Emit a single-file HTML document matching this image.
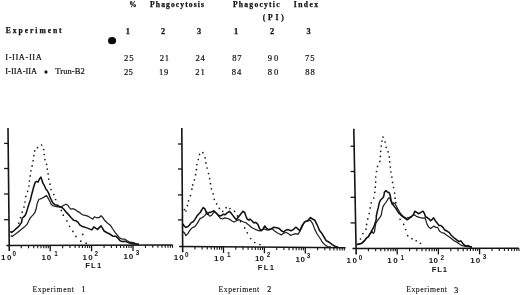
<!DOCTYPE html><html><head><meta charset="utf-8"><style>html,body{margin:0;padding:0;background:#fff;width:520px;height:295px;overflow:hidden}svg{display:block;will-change:transform}text{font-kerning:none;white-space:pre}</style></head><body>
<svg width="520" height="295" viewBox="0 0 520 295">
<rect width="520" height="295" fill="#fff"/>
<text x="129.25" y="6.58" font-family="Liberation Serif, serif" font-weight="700" font-size="7.30" letter-spacing="0.00" fill="#111" stroke="#111" stroke-width="0.25">%</text>
<text x="150.12" y="6.65" font-family="Liberation Serif, serif" font-weight="700" font-size="7.60" letter-spacing="1.09" fill="#111" stroke="#111" stroke-width="0.25">Phagocytosis</text>
<text x="232.97" y="7.00" font-family="Liberation Serif, serif" font-weight="700" font-size="7.60" letter-spacing="1.24" fill="#111" stroke="#111" stroke-width="0.25">Phagocytic</text>
<text x="293.74" y="7.10" font-family="Liberation Serif, serif" font-weight="700" font-size="7.60" letter-spacing="1.45" fill="#111" stroke="#111" stroke-width="0.25">Index</text>
<text x="262.77" y="19.95" font-family="Liberation Serif, serif" font-weight="700" font-size="7.60" letter-spacing="2.80" fill="#111" stroke="#111" stroke-width="0.25">(PI)</text>
<text x="5.87" y="32.78" font-family="Liberation Serif, serif" font-weight="700" font-size="7.60" letter-spacing="1.93" fill="#111" stroke="#111" stroke-width="0.25">Experiment</text>
<text x="125.84" y="33.66" font-family="Liberation Serif, serif" font-weight="700" font-size="8.30" letter-spacing="0.00" fill="#111" stroke="#111" stroke-width="0.25">1</text>
<text x="160.90" y="33.67" font-family="Liberation Serif, serif" font-weight="700" font-size="8.30" letter-spacing="0.00" fill="#111" stroke="#111" stroke-width="0.25">2</text>
<text x="196.94" y="33.96" font-family="Liberation Serif, serif" font-weight="700" font-size="8.30" letter-spacing="0.00" fill="#111" stroke="#111" stroke-width="0.25">3</text>
<text x="234.09" y="34.11" font-family="Liberation Serif, serif" font-weight="700" font-size="8.30" letter-spacing="0.00" fill="#111" stroke="#111" stroke-width="0.25">1</text>
<text x="269.90" y="33.87" font-family="Liberation Serif, serif" font-weight="700" font-size="8.30" letter-spacing="0.00" fill="#111" stroke="#111" stroke-width="0.25">2</text>
<text x="306.59" y="34.16" font-family="Liberation Serif, serif" font-weight="700" font-size="8.30" letter-spacing="0.00" fill="#111" stroke="#111" stroke-width="0.25">3</text>
<text x="5.30" y="60.17" font-family="Liberation Serif, serif" font-weight="400" font-size="8.40" letter-spacing="0.60" fill="#111" stroke="#111" stroke-width="0.2">I-IIA-IIA</text>
<text x="123.92" y="60.86" font-family="Liberation Serif, serif" font-weight="400" font-size="8.60" letter-spacing="1.01" fill="#111" stroke="#111" stroke-width="0.2">25</text>
<text x="159.87" y="61.15" font-family="Liberation Serif, serif" font-weight="400" font-size="8.60" letter-spacing="0.54" fill="#111" stroke="#111" stroke-width="0.2">21</text>
<text x="195.62" y="61.15" font-family="Liberation Serif, serif" font-weight="400" font-size="8.60" letter-spacing="0.66" fill="#111" stroke="#111" stroke-width="0.2">24</text>
<text x="232.17" y="61.12" font-family="Liberation Serif, serif" font-weight="400" font-size="8.60" letter-spacing="0.73" fill="#111" stroke="#111" stroke-width="0.2">87</text>
<text x="267.82" y="61.17" font-family="Liberation Serif, serif" font-weight="400" font-size="8.60" letter-spacing="1.80" fill="#111" stroke="#111" stroke-width="0.2">90</text>
<text x="305.03" y="61.07" font-family="Liberation Serif, serif" font-weight="400" font-size="8.60" letter-spacing="0.90" fill="#111" stroke="#111" stroke-width="0.2">75</text>
<text x="5.30" y="73.62" font-family="Liberation Serif, serif" font-weight="400" font-size="8.40" letter-spacing="0.03" fill="#111" stroke="#111" stroke-width="0.2">I-IIA-IIA</text>
<text x="55.15" y="74.05" font-family="Liberation Serif, serif" font-weight="400" font-size="8.50" letter-spacing="0.04" fill="#111" stroke="#111" stroke-width="0.2">Trun-B2</text>
<text x="123.92" y="74.56" font-family="Liberation Serif, serif" font-weight="400" font-size="8.60" letter-spacing="0.31" fill="#111" stroke="#111" stroke-width="0.2">25</text>
<text x="159.04" y="74.56" font-family="Liberation Serif, serif" font-weight="400" font-size="8.60" letter-spacing="0.71" fill="#111" stroke="#111" stroke-width="0.2">19</text>
<text x="195.32" y="74.60" font-family="Liberation Serif, serif" font-weight="400" font-size="8.60" letter-spacing="0.89" fill="#111" stroke="#111" stroke-width="0.2">21</text>
<text x="231.67" y="74.57" font-family="Liberation Serif, serif" font-weight="400" font-size="8.60" letter-spacing="1.06" fill="#111" stroke="#111" stroke-width="0.2">84</text>
<text x="267.77" y="74.92" font-family="Liberation Serif, serif" font-weight="400" font-size="8.60" letter-spacing="1.86" fill="#111" stroke="#111" stroke-width="0.2">80</text>
<text x="305.27" y="74.92" font-family="Liberation Serif, serif" font-weight="400" font-size="8.60" letter-spacing="0.86" fill="#111" stroke="#111" stroke-width="0.2">88</text>
<text x="32.38" y="291.63" font-family="Liberation Serif, serif" font-weight="400" font-size="7.70" letter-spacing="0.62" fill="#111" stroke="#111" stroke-width="0.1">Experiment</text>
<text x="81.61" y="291.81" font-family="Liberation Serif, serif" font-weight="400" font-size="7.90" letter-spacing="0.00" fill="#111" stroke="#111" stroke-width="0.2">1</text>
<text x="218.58" y="292.03" font-family="Liberation Serif, serif" font-weight="400" font-size="7.70" letter-spacing="0.53" fill="#111" stroke="#111" stroke-width="0.1">Experiment</text>
<text x="267.35" y="292.22" font-family="Liberation Serif, serif" font-weight="400" font-size="7.90" letter-spacing="0.00" fill="#111" stroke="#111" stroke-width="0.2">2</text>
<text x="406.28" y="292.38" font-family="Liberation Serif, serif" font-weight="400" font-size="7.70" letter-spacing="0.53" fill="#111" stroke="#111" stroke-width="0.1">Experiment</text>
<text x="454.22" y="292.58" font-family="Liberation Serif, serif" font-weight="400" font-size="7.90" letter-spacing="0.00" fill="#111" stroke="#111" stroke-width="0.2">3</text>
<ellipse cx="112.05" cy="40.65" rx="4.05" ry="3.55" fill="#0a0a0a"/>
<ellipse cx="46.0" cy="72.1" rx="1.6" ry="1.75" fill="#1a1a1a"/>
<line x1="8.0" y1="128.0" x2="9.3" y2="251.0" stroke="#141414" stroke-width="1.6"/>
<line x1="6.4" y1="245.5" x2="172.7" y2="245.0" stroke="#141414" stroke-width="1.5"/>
<line x1="4.1" y1="143.4" x2="8.16" y2="143.4" stroke="#141414" stroke-width="1.3"/>
<line x1="4.1" y1="168.5" x2="8.43" y2="168.5" stroke="#141414" stroke-width="1.3"/>
<line x1="4.1" y1="194.0" x2="8.70" y2="194.0" stroke="#141414" stroke-width="1.3"/>
<line x1="4.1" y1="219.7" x2="8.97" y2="219.7" stroke="#141414" stroke-width="1.3"/>
<line x1="21.26" y1="245.46" x2="21.26" y2="248.26" stroke="#141414" stroke-width="1.1"/>
<line x1="28.55" y1="245.43" x2="28.55" y2="248.23" stroke="#141414" stroke-width="1.1"/>
<line x1="33.73" y1="245.42" x2="33.73" y2="248.22" stroke="#141414" stroke-width="1.1"/>
<line x1="37.74" y1="245.41" x2="37.74" y2="248.21" stroke="#141414" stroke-width="1.1"/>
<line x1="41.02" y1="245.40" x2="41.02" y2="248.20" stroke="#141414" stroke-width="1.1"/>
<line x1="43.79" y1="245.39" x2="43.79" y2="248.19" stroke="#141414" stroke-width="1.1"/>
<line x1="46.19" y1="245.38" x2="46.19" y2="248.18" stroke="#141414" stroke-width="1.1"/>
<line x1="48.31" y1="245.37" x2="48.31" y2="248.17" stroke="#141414" stroke-width="1.1"/>
<line x1="50.20" y1="245.37" x2="50.20" y2="251.37" stroke="#141414" stroke-width="1.3"/>
<line x1="62.66" y1="245.33" x2="62.66" y2="248.13" stroke="#141414" stroke-width="1.1"/>
<line x1="69.95" y1="245.31" x2="69.95" y2="248.11" stroke="#141414" stroke-width="1.1"/>
<line x1="75.13" y1="245.29" x2="75.13" y2="248.09" stroke="#141414" stroke-width="1.1"/>
<line x1="79.14" y1="245.28" x2="79.14" y2="248.08" stroke="#141414" stroke-width="1.1"/>
<line x1="82.42" y1="245.27" x2="82.42" y2="248.07" stroke="#141414" stroke-width="1.1"/>
<line x1="85.19" y1="245.26" x2="85.19" y2="248.06" stroke="#141414" stroke-width="1.1"/>
<line x1="87.59" y1="245.26" x2="87.59" y2="248.06" stroke="#141414" stroke-width="1.1"/>
<line x1="89.71" y1="245.25" x2="89.71" y2="248.05" stroke="#141414" stroke-width="1.1"/>
<line x1="91.60" y1="245.24" x2="91.60" y2="251.24" stroke="#141414" stroke-width="1.3"/>
<line x1="104.06" y1="245.21" x2="104.06" y2="248.01" stroke="#141414" stroke-width="1.1"/>
<line x1="111.35" y1="245.18" x2="111.35" y2="247.98" stroke="#141414" stroke-width="1.1"/>
<line x1="116.53" y1="245.17" x2="116.53" y2="247.97" stroke="#141414" stroke-width="1.1"/>
<line x1="120.54" y1="245.16" x2="120.54" y2="247.96" stroke="#141414" stroke-width="1.1"/>
<line x1="123.82" y1="245.15" x2="123.82" y2="247.95" stroke="#141414" stroke-width="1.1"/>
<line x1="126.59" y1="245.14" x2="126.59" y2="247.94" stroke="#141414" stroke-width="1.1"/>
<line x1="128.99" y1="245.13" x2="128.99" y2="247.93" stroke="#141414" stroke-width="1.1"/>
<line x1="131.11" y1="245.13" x2="131.11" y2="247.93" stroke="#141414" stroke-width="1.1"/>
<line x1="133.00" y1="245.12" x2="133.00" y2="251.12" stroke="#141414" stroke-width="1.3"/>
<line x1="145.46" y1="245.08" x2="145.46" y2="247.88" stroke="#141414" stroke-width="1.1"/>
<line x1="152.75" y1="245.06" x2="152.75" y2="247.86" stroke="#141414" stroke-width="1.1"/>
<line x1="157.93" y1="245.04" x2="157.93" y2="247.84" stroke="#141414" stroke-width="1.1"/>
<line x1="161.94" y1="245.03" x2="161.94" y2="247.83" stroke="#141414" stroke-width="1.1"/>
<line x1="165.22" y1="245.02" x2="165.22" y2="247.82" stroke="#141414" stroke-width="1.1"/>
<line x1="167.99" y1="245.01" x2="167.99" y2="247.81" stroke="#141414" stroke-width="1.1"/>
<line x1="170.39" y1="245.01" x2="170.39" y2="247.81" stroke="#141414" stroke-width="1.1"/>
<line x1="172.51" y1="245.00" x2="172.51" y2="247.80" stroke="#141414" stroke-width="1.1"/>
<polyline points="10.7,235.5 12.1,236.6 14.8,234.6 17.5,232.5 20.9,229.8 24.3,227.1 27.0,224.4 29.0,220.3 30.4,217.6 33.1,214.9 35.1,212.2 36.5,207.5 37.2,203.4 38.8,199.5 41.9,198.3 44.4,196.9 46.5,195.6 47.7,197.4 49.0,200.0 50.3,202.0 51.1,204.2 53.1,205.8 55.5,206.3 58.0,206.8 61.3,206.8 63.8,205.3 65.9,204.2 67.9,205.3 69.4,207.8 71.2,209.2 73.3,208.7 75.1,209.6 77.1,211.1 79.7,212.6 81.7,214.2 83.7,215.2 86.3,215.7 88.8,216.7 91.4,218.2 92.9,219.2 94.4,216.7 96.5,217.7 99.0,217.7 101.0,215.7 102.6,217.2 104.6,220.3 107.1,222.8 110.6,225.6 112.8,229.0 115.1,232.3 117.3,235.1 119.5,237.9 121.8,239.0 124.6,239.0 126.8,240.5 129.0,241.8 131.8,242.4 134.3,242.9 135.7,243.8 139.0,244.3" fill="none" stroke="#222" stroke-width="1.25" stroke-linejoin="round"/>
<polyline points="10.4,231.2 11.4,232.5 13.4,231.2 15.5,229.2 18.8,226.4 21.6,222.4 22.2,218.3 25.0,215.6 26.3,212.9 27.7,208.1 29.0,204.1 30.4,200.0 31.2,196.4 32.7,190.8 34.2,185.2 35.3,182.2 36.8,181.4 38.1,182.2 39.3,179.3 40.9,177.1 41.9,180.1 42.9,183.2 44.4,185.7 46.0,189.3 47.2,190.5 48.6,193.1 49.6,196.1 51.1,199.7 53.1,203.2 55.2,204.8 57.7,205.3 59.8,206.8 62.3,207.8 64.3,209.8 66.4,212.4 68.9,214.9 71.0,217.5 73.6,220.3 76.1,220.8 78.1,222.3 79.7,224.8 82.2,226.4 84.2,226.9 86.8,227.9 89.3,228.9 91.9,229.9 93.9,226.9 96.0,228.4 97.5,229.4 99.5,227.4 101.0,225.9 102.6,228.4 104.1,231.0 106.6,232.5 109.7,234.0 112.8,236.2 115.6,236.2 117.8,237.9 120.1,240.7 122.3,241.6 125.1,241.3 127.9,242.4 130.7,243.2 133.5,243.8 135.7,244.0 139.0,244.3" fill="none" stroke="#111" stroke-width="1.55" stroke-linejoin="round"/>
<circle cx="18.8" cy="223.1" r="0.85" fill="#1a1a1a"/>
<circle cx="20.5" cy="217.6" r="0.85" fill="#1a1a1a"/>
<circle cx="22.2" cy="212.2" r="0.85" fill="#1a1a1a"/>
<circle cx="24" cy="207.1" r="0.85" fill="#1a1a1a"/>
<circle cx="25" cy="202" r="0.85" fill="#1a1a1a"/>
<circle cx="25.9" cy="196.4" r="0.85" fill="#1a1a1a"/>
<circle cx="27.6" cy="191.3" r="0.85" fill="#1a1a1a"/>
<circle cx="29" cy="186" r="0.85" fill="#1a1a1a"/>
<circle cx="29.4" cy="181" r="0.85" fill="#1a1a1a"/>
<circle cx="30.2" cy="175.9" r="0.85" fill="#1a1a1a"/>
<circle cx="30.9" cy="170.8" r="0.85" fill="#1a1a1a"/>
<circle cx="32.1" cy="165.9" r="0.85" fill="#1a1a1a"/>
<circle cx="33.1" cy="160.8" r="0.85" fill="#1a1a1a"/>
<circle cx="33.9" cy="155.7" r="0.85" fill="#1a1a1a"/>
<circle cx="34.7" cy="150.9" r="0.85" fill="#1a1a1a"/>
<circle cx="37.5" cy="147.7" r="0.85" fill="#1a1a1a"/>
<circle cx="41.6" cy="145" r="0.85" fill="#1a1a1a"/>
<circle cx="43.7" cy="149.5" r="0.85" fill="#1a1a1a"/>
<circle cx="44.2" cy="154.5" r="0.85" fill="#1a1a1a"/>
<circle cx="44.9" cy="159.6" r="0.85" fill="#1a1a1a"/>
<circle cx="46.6" cy="164.3" r="0.85" fill="#1a1a1a"/>
<circle cx="47.3" cy="169.1" r="0.85" fill="#1a1a1a"/>
<circle cx="48.1" cy="173.8" r="0.85" fill="#1a1a1a"/>
<circle cx="48.7" cy="179.1" r="0.85" fill="#1a1a1a"/>
<circle cx="50" cy="184.2" r="0.85" fill="#1a1a1a"/>
<circle cx="51" cy="189.5" r="0.85" fill="#1a1a1a"/>
<circle cx="53.8" cy="194.5" r="0.85" fill="#1a1a1a"/>
<circle cx="55.6" cy="199.5" r="0.85" fill="#1a1a1a"/>
<circle cx="61.3" cy="210.4" r="0.85" fill="#1a1a1a"/>
<circle cx="63.3" cy="215.2" r="0.85" fill="#1a1a1a"/>
<circle cx="66.9" cy="220.8" r="0.85" fill="#1a1a1a"/>
<circle cx="69.6" cy="226.3" r="0.85" fill="#1a1a1a"/>
<circle cx="72.9" cy="231.4" r="0.85" fill="#1a1a1a"/>
<circle cx="76" cy="236.4" r="0.85" fill="#1a1a1a"/>
<circle cx="80.8" cy="241.2" r="0.85" fill="#1a1a1a"/>
<circle cx="82.8" cy="234.4" r="0.85" fill="#1a1a1a"/>
<circle cx="86.2" cy="243.2" r="0.85" fill="#1a1a1a"/>
<line x1="181.8" y1="128.0" x2="182.7" y2="252.3" stroke="#141414" stroke-width="1.6"/>
<line x1="179.1" y1="246.6" x2="345.6" y2="247.7" stroke="#141414" stroke-width="1.5"/>
<line x1="178.0" y1="144.0" x2="181.92" y2="144.0" stroke="#141414" stroke-width="1.3"/>
<line x1="178.0" y1="169.0" x2="182.10" y2="169.0" stroke="#141414" stroke-width="1.3"/>
<line x1="178.0" y1="194.9" x2="182.28" y2="194.9" stroke="#141414" stroke-width="1.3"/>
<line x1="178.0" y1="219.9" x2="182.47" y2="219.9" stroke="#141414" stroke-width="1.3"/>
<line x1="194.91" y1="246.70" x2="194.91" y2="249.50" stroke="#141414" stroke-width="1.1"/>
<line x1="202.11" y1="246.75" x2="202.11" y2="249.55" stroke="#141414" stroke-width="1.1"/>
<line x1="207.22" y1="246.79" x2="207.22" y2="249.59" stroke="#141414" stroke-width="1.1"/>
<line x1="211.19" y1="246.81" x2="211.19" y2="249.61" stroke="#141414" stroke-width="1.1"/>
<line x1="214.43" y1="246.83" x2="214.43" y2="249.63" stroke="#141414" stroke-width="1.1"/>
<line x1="217.16" y1="246.85" x2="217.16" y2="249.65" stroke="#141414" stroke-width="1.1"/>
<line x1="219.54" y1="246.87" x2="219.54" y2="249.67" stroke="#141414" stroke-width="1.1"/>
<line x1="221.63" y1="246.88" x2="221.63" y2="249.68" stroke="#141414" stroke-width="1.1"/>
<line x1="223.50" y1="246.89" x2="223.50" y2="252.89" stroke="#141414" stroke-width="1.3"/>
<line x1="235.81" y1="246.97" x2="235.81" y2="249.77" stroke="#141414" stroke-width="1.1"/>
<line x1="243.01" y1="247.02" x2="243.01" y2="249.82" stroke="#141414" stroke-width="1.1"/>
<line x1="248.12" y1="247.06" x2="248.12" y2="249.86" stroke="#141414" stroke-width="1.1"/>
<line x1="252.09" y1="247.08" x2="252.09" y2="249.88" stroke="#141414" stroke-width="1.1"/>
<line x1="255.33" y1="247.10" x2="255.33" y2="249.90" stroke="#141414" stroke-width="1.1"/>
<line x1="258.06" y1="247.12" x2="258.06" y2="249.92" stroke="#141414" stroke-width="1.1"/>
<line x1="260.44" y1="247.14" x2="260.44" y2="249.94" stroke="#141414" stroke-width="1.1"/>
<line x1="262.53" y1="247.15" x2="262.53" y2="249.95" stroke="#141414" stroke-width="1.1"/>
<line x1="264.40" y1="247.16" x2="264.40" y2="253.16" stroke="#141414" stroke-width="1.3"/>
<line x1="276.71" y1="247.24" x2="276.71" y2="250.04" stroke="#141414" stroke-width="1.1"/>
<line x1="283.91" y1="247.29" x2="283.91" y2="250.09" stroke="#141414" stroke-width="1.1"/>
<line x1="289.02" y1="247.33" x2="289.02" y2="250.13" stroke="#141414" stroke-width="1.1"/>
<line x1="292.99" y1="247.35" x2="292.99" y2="250.15" stroke="#141414" stroke-width="1.1"/>
<line x1="296.23" y1="247.37" x2="296.23" y2="250.17" stroke="#141414" stroke-width="1.1"/>
<line x1="298.96" y1="247.39" x2="298.96" y2="250.19" stroke="#141414" stroke-width="1.1"/>
<line x1="301.34" y1="247.41" x2="301.34" y2="250.21" stroke="#141414" stroke-width="1.1"/>
<line x1="303.43" y1="247.42" x2="303.43" y2="250.22" stroke="#141414" stroke-width="1.1"/>
<line x1="305.30" y1="247.43" x2="305.30" y2="253.43" stroke="#141414" stroke-width="1.3"/>
<line x1="317.61" y1="247.52" x2="317.61" y2="250.32" stroke="#141414" stroke-width="1.1"/>
<line x1="324.81" y1="247.56" x2="324.81" y2="250.36" stroke="#141414" stroke-width="1.1"/>
<line x1="329.92" y1="247.60" x2="329.92" y2="250.40" stroke="#141414" stroke-width="1.1"/>
<line x1="333.89" y1="247.62" x2="333.89" y2="250.42" stroke="#141414" stroke-width="1.1"/>
<line x1="337.13" y1="247.64" x2="337.13" y2="250.44" stroke="#141414" stroke-width="1.1"/>
<line x1="339.86" y1="247.66" x2="339.86" y2="250.46" stroke="#141414" stroke-width="1.1"/>
<line x1="342.24" y1="247.68" x2="342.24" y2="250.48" stroke="#141414" stroke-width="1.1"/>
<line x1="344.33" y1="247.69" x2="344.33" y2="250.49" stroke="#141414" stroke-width="1.1"/>
<polyline points="183.0,231.5 184.7,233.3 185.9,235.6 187.7,233.9 189.5,230.9 191.3,228.5 193.1,227.3 194.8,226.7 196.6,224.4 198.4,221.4 200.2,218.4 202.0,217.8 203.7,216.6 205.5,214.9 206.7,211.9 207.9,214.3 209.7,216.1 211.5,215.5 213.2,213.1 215.0,211.9 216.8,213.7 218.6,216.1 220.4,218.4 222.7,219.0 224.5,217.8 226.9,218.4 229.3,219.0 231.6,220.8 234.0,222.0 236.4,220.8 238.8,219.6 241.1,220.8 243.5,222.0 245.9,222.6 247.7,224.3 249.5,225.5 251.2,227.3 253.6,228.5 256.0,229.7 257.8,230.3 259.5,230.8 261.9,230.2 264.2,229.0 267.2,230.2 269.6,229.6 271.9,228.4 274.3,230.8 276.7,232.5 279.1,233.7 281.4,234.9 283.8,233.1 286.2,232.5 288.6,233.7 290.9,235.5 293.3,234.3 295.7,233.7 298.0,234.3 299.8,231.4 302.2,226.6 304.0,223.0 305.8,221.3 306.1,221.3 308.2,220.8 310.2,220.2 312.5,223.3 314.8,229.4 317.1,234.0 320.2,238.5 322.4,242.3 325.5,245.4 327.8,246.5 331.0,246.8" fill="none" stroke="#222" stroke-width="1.25" stroke-linejoin="round"/>
<polyline points="183.0,223.8 184.2,226.1 185.9,227.3 187.7,226.7 189.5,225.0 191.3,222.6 193.1,221.8 194.8,219.6 196.6,216.6 198.4,214.3 200.2,212.5 202.0,209.5 203.1,207.5 204.9,208.9 206.1,211.9 207.5,214.3 209.1,212.5 211.5,211.9 213.8,210.7 215.6,212.5 218.0,214.8 219.8,216.0 221.6,215.4 223.3,214.2 225.1,214.8 226.9,213.1 229.3,211.3 231.1,213.1 232.8,215.4 234.6,217.8 236.4,219.6 238.2,217.2 240.6,214.2 242.9,211.3 244.7,212.5 245.9,216.0 247.1,219.0 248.9,220.2 250.0,219.0 251.8,220.8 253.6,222.6 256.0,222.6 257.8,224.3 259.5,228.4 261.3,230.8 263.0,229.0 264.8,226.0 266.6,228.4 269.0,229.6 271.4,229.0 273.7,227.2 276.7,227.8 279.1,228.4 281.4,230.8 283.8,232.0 285.6,230.2 288.0,229.6 290.9,230.8 293.3,229.6 295.7,227.2 297.4,228.4 299.8,230.8 302.2,225.4 304.6,221.9 307.5,220.7 309.9,218.3 310.2,217.5 312.5,219.0 314.8,220.2 317.1,224.8 319.4,230.2 321.7,233.2 324.0,237.0 326.3,240.8 329.3,242.3 332.3,244.6 335.4,246.5 338.0,246.9" fill="none" stroke="#111" stroke-width="1.55" stroke-linejoin="round"/>
<circle cx="184.4" cy="209.6" r="0.85" fill="#1a1a1a"/>
<circle cx="186" cy="211" r="0.85" fill="#1a1a1a"/>
<circle cx="187.4" cy="205.6" r="0.85" fill="#1a1a1a"/>
<circle cx="188.5" cy="200.8" r="0.85" fill="#1a1a1a"/>
<circle cx="190.4" cy="195.6" r="0.85" fill="#1a1a1a"/>
<circle cx="191.9" cy="189.2" r="0.85" fill="#1a1a1a"/>
<circle cx="192.7" cy="184.9" r="0.85" fill="#1a1a1a"/>
<circle cx="194.4" cy="179.8" r="0.85" fill="#1a1a1a"/>
<circle cx="195.6" cy="174.7" r="0.85" fill="#1a1a1a"/>
<circle cx="196.4" cy="169.7" r="0.85" fill="#1a1a1a"/>
<circle cx="196.9" cy="164.6" r="0.85" fill="#1a1a1a"/>
<circle cx="198.3" cy="159.5" r="0.85" fill="#1a1a1a"/>
<circle cx="199.5" cy="154.4" r="0.85" fill="#1a1a1a"/>
<circle cx="202.9" cy="152.7" r="0.85" fill="#1a1a1a"/>
<circle cx="205.1" cy="157.8" r="0.85" fill="#1a1a1a"/>
<circle cx="205.9" cy="162.9" r="0.85" fill="#1a1a1a"/>
<circle cx="207.1" cy="168" r="0.85" fill="#1a1a1a"/>
<circle cx="208.5" cy="173.6" r="0.85" fill="#1a1a1a"/>
<circle cx="209.7" cy="178.6" r="0.85" fill="#1a1a1a"/>
<circle cx="210.5" cy="183.7" r="0.85" fill="#1a1a1a"/>
<circle cx="211.4" cy="188.8" r="0.85" fill="#1a1a1a"/>
<circle cx="213.2" cy="193.8" r="0.85" fill="#1a1a1a"/>
<circle cx="214.3" cy="199.3" r="0.85" fill="#1a1a1a"/>
<circle cx="216.6" cy="203.8" r="0.85" fill="#1a1a1a"/>
<circle cx="219.4" cy="208.4" r="0.85" fill="#1a1a1a"/>
<circle cx="222.7" cy="211.3" r="0.85" fill="#1a1a1a"/>
<circle cx="226.1" cy="207.7" r="0.85" fill="#1a1a1a"/>
<circle cx="229.9" cy="208.5" r="0.85" fill="#1a1a1a"/>
<circle cx="234.6" cy="211.3" r="0.85" fill="#1a1a1a"/>
<circle cx="237.6" cy="215.9" r="0.85" fill="#1a1a1a"/>
<circle cx="240.6" cy="221.6" r="0.85" fill="#1a1a1a"/>
<circle cx="244.7" cy="227.9" r="0.85" fill="#1a1a1a"/>
<circle cx="247.3" cy="232.8" r="0.85" fill="#1a1a1a"/>
<circle cx="250.7" cy="238.5" r="0.85" fill="#1a1a1a"/>
<circle cx="254.8" cy="242.5" r="0.85" fill="#1a1a1a"/>
<circle cx="259.9" cy="244.5" r="0.85" fill="#1a1a1a"/>
<line x1="353.8" y1="128.7" x2="356.2" y2="254.6" stroke="#141414" stroke-width="1.6"/>
<line x1="352.5" y1="248.6" x2="518.8" y2="248.2" stroke="#141414" stroke-width="1.5"/>
<line x1="350.6" y1="146.2" x2="354.13" y2="146.2" stroke="#141414" stroke-width="1.3"/>
<line x1="350.6" y1="171.5" x2="354.62" y2="171.5" stroke="#141414" stroke-width="1.3"/>
<line x1="350.6" y1="197.3" x2="355.11" y2="197.3" stroke="#141414" stroke-width="1.3"/>
<line x1="350.6" y1="222.9" x2="355.60" y2="222.9" stroke="#141414" stroke-width="1.3"/>
<line x1="368.40" y1="248.56" x2="368.40" y2="251.36" stroke="#141414" stroke-width="1.1"/>
<line x1="375.66" y1="248.54" x2="375.66" y2="251.34" stroke="#141414" stroke-width="1.1"/>
<line x1="380.80" y1="248.53" x2="380.80" y2="251.33" stroke="#141414" stroke-width="1.1"/>
<line x1="384.80" y1="248.52" x2="384.80" y2="251.32" stroke="#141414" stroke-width="1.1"/>
<line x1="388.06" y1="248.51" x2="388.06" y2="251.31" stroke="#141414" stroke-width="1.1"/>
<line x1="390.82" y1="248.51" x2="390.82" y2="251.31" stroke="#141414" stroke-width="1.1"/>
<line x1="393.21" y1="248.50" x2="393.21" y2="251.30" stroke="#141414" stroke-width="1.1"/>
<line x1="395.31" y1="248.50" x2="395.31" y2="251.30" stroke="#141414" stroke-width="1.1"/>
<line x1="397.20" y1="248.49" x2="397.20" y2="254.49" stroke="#141414" stroke-width="1.3"/>
<line x1="409.60" y1="248.46" x2="409.60" y2="251.26" stroke="#141414" stroke-width="1.1"/>
<line x1="416.86" y1="248.45" x2="416.86" y2="251.25" stroke="#141414" stroke-width="1.1"/>
<line x1="422.00" y1="248.43" x2="422.00" y2="251.23" stroke="#141414" stroke-width="1.1"/>
<line x1="426.00" y1="248.42" x2="426.00" y2="251.22" stroke="#141414" stroke-width="1.1"/>
<line x1="429.26" y1="248.42" x2="429.26" y2="251.22" stroke="#141414" stroke-width="1.1"/>
<line x1="432.02" y1="248.41" x2="432.02" y2="251.21" stroke="#141414" stroke-width="1.1"/>
<line x1="434.41" y1="248.40" x2="434.41" y2="251.20" stroke="#141414" stroke-width="1.1"/>
<line x1="436.51" y1="248.40" x2="436.51" y2="251.20" stroke="#141414" stroke-width="1.1"/>
<line x1="438.40" y1="248.39" x2="438.40" y2="254.39" stroke="#141414" stroke-width="1.3"/>
<line x1="450.80" y1="248.36" x2="450.80" y2="251.16" stroke="#141414" stroke-width="1.1"/>
<line x1="458.06" y1="248.35" x2="458.06" y2="251.15" stroke="#141414" stroke-width="1.1"/>
<line x1="463.20" y1="248.33" x2="463.20" y2="251.13" stroke="#141414" stroke-width="1.1"/>
<line x1="467.20" y1="248.32" x2="467.20" y2="251.12" stroke="#141414" stroke-width="1.1"/>
<line x1="470.46" y1="248.32" x2="470.46" y2="251.12" stroke="#141414" stroke-width="1.1"/>
<line x1="473.22" y1="248.31" x2="473.22" y2="251.11" stroke="#141414" stroke-width="1.1"/>
<line x1="475.61" y1="248.30" x2="475.61" y2="251.10" stroke="#141414" stroke-width="1.1"/>
<line x1="477.71" y1="248.30" x2="477.71" y2="251.10" stroke="#141414" stroke-width="1.1"/>
<line x1="479.60" y1="248.29" x2="479.60" y2="254.29" stroke="#141414" stroke-width="1.3"/>
<line x1="492.00" y1="248.26" x2="492.00" y2="251.06" stroke="#141414" stroke-width="1.1"/>
<line x1="499.26" y1="248.25" x2="499.26" y2="251.05" stroke="#141414" stroke-width="1.1"/>
<line x1="504.40" y1="248.23" x2="504.40" y2="251.03" stroke="#141414" stroke-width="1.1"/>
<line x1="508.40" y1="248.23" x2="508.40" y2="251.03" stroke="#141414" stroke-width="1.1"/>
<line x1="511.66" y1="248.22" x2="511.66" y2="251.02" stroke="#141414" stroke-width="1.1"/>
<line x1="514.42" y1="248.21" x2="514.42" y2="251.01" stroke="#141414" stroke-width="1.1"/>
<line x1="516.81" y1="248.20" x2="516.81" y2="251.00" stroke="#141414" stroke-width="1.1"/>
<line x1="518.91" y1="248.20" x2="518.91" y2="251.00" stroke="#141414" stroke-width="1.1"/>
<polyline points="356.8,244.7 359.3,244.1 361.7,243.5 364.8,240.5 366.6,238.0 368.4,236.8 370.2,233.7 372.1,231.7 373.3,233.5 374.5,231.7 375.1,227.4 375.7,223.8 377.0,221.3 378.8,218.9 380.6,216.4 381.4,214.5 381.9,211.4 382.9,206.9 384.4,204.3 386.0,202.3 387.5,199.7 389.0,197.7 390.0,198.2 391.0,201.3 392.1,204.3 393.6,202.8 395.1,203.8 396.1,205.8 397.1,207.9 398.7,210.4 399.7,212.5 401.1,214.2 403.1,216.3 406.2,218.3 409.2,217.3 411.8,216.3 414.3,214.8 416.4,216.3 419.4,217.3 422.5,218.1 425.0,217.8 426.0,220.9 427.1,224.4 428.6,227.0 430.6,228.5 432.7,227.0 433.9,226.1 435.8,227.4 437.7,227.4 439.6,231.3 441.6,232.6 444.1,233.2 446.7,235.2 449.3,237.1 451.9,239.0 454.4,240.9 457.0,242.2 459.6,244.2 462.2,245.7 465.4,246.5 468.6,246.7 472.0,247.3" fill="none" stroke="#222" stroke-width="1.25" stroke-linejoin="round"/>
<polyline points="356.8,244.5 359.3,243.9 361.7,243.3 364.8,240.2 366.6,237.8 368.4,236.6 370.2,233.5 371.5,231.1 373.3,228.0 374.5,225.0 375.7,221.3 376.3,218.9 376.3,216.0 377.3,211.4 378.3,207.4 379.3,202.8 380.4,200.2 381.9,198.7 383.4,197.2 384.2,194.1 384.4,192.1 386.0,190.6 387.3,192.1 389.0,192.6 390.0,194.7 390.5,197.2 391.0,200.2 392.1,202.8 393.1,204.8 394.6,206.9 396.1,208.9 397.7,211.4 399.2,213.5 400.6,214.8 403.1,216.8 405.2,218.3 407.2,219.8 409.2,218.3 411.3,216.8 413.3,214.8 414.8,211.2 416.4,212.2 418.4,213.7 420.4,212.7 423.0,211.2 424.5,213.7 425.5,216.8 427.6,217.8 429.6,219.3 430.5,220.8 431.9,219.7 433.6,217.8 435.1,220.4 437.1,222.9 439.0,225.5 440.9,225.5 442.9,227.4 444.8,230.0 447.4,231.3 449.3,232.6 451.2,235.2 453.8,237.7 456.4,239.7 458.9,241.6 460.9,240.9 462.8,243.5 464.7,245.4 467.3,245.7 469.2,246.1 472.0,247.2" fill="none" stroke="#111" stroke-width="1.55" stroke-linejoin="round"/>
<circle cx="360.5" cy="239" r="0.85" fill="#1a1a1a"/>
<circle cx="362.9" cy="233.5" r="0.85" fill="#1a1a1a"/>
<circle cx="366" cy="229.2" r="0.85" fill="#1a1a1a"/>
<circle cx="366.6" cy="224.4" r="0.85" fill="#1a1a1a"/>
<circle cx="367.8" cy="218.9" r="0.85" fill="#1a1a1a"/>
<circle cx="369.2" cy="213.5" r="0.85" fill="#1a1a1a"/>
<circle cx="370.2" cy="207.9" r="0.85" fill="#1a1a1a"/>
<circle cx="371.2" cy="202.8" r="0.85" fill="#1a1a1a"/>
<circle cx="373.7" cy="198" r="0.85" fill="#1a1a1a"/>
<circle cx="374.8" cy="192.3" r="0.85" fill="#1a1a1a"/>
<circle cx="375.3" cy="187.2" r="0.85" fill="#1a1a1a"/>
<circle cx="375.7" cy="182.1" r="0.85" fill="#1a1a1a"/>
<circle cx="375.7" cy="177" r="0.85" fill="#1a1a1a"/>
<circle cx="376.5" cy="171.5" r="0.85" fill="#1a1a1a"/>
<circle cx="377.5" cy="166.4" r="0.85" fill="#1a1a1a"/>
<circle cx="379.9" cy="161.4" r="0.85" fill="#1a1a1a"/>
<circle cx="380.4" cy="156.4" r="0.85" fill="#1a1a1a"/>
<circle cx="380.7" cy="151.3" r="0.85" fill="#1a1a1a"/>
<circle cx="381.2" cy="146.1" r="0.85" fill="#1a1a1a"/>
<circle cx="382" cy="141" r="0.85" fill="#1a1a1a"/>
<circle cx="383" cy="137.1" r="0.85" fill="#1a1a1a"/>
<circle cx="385.1" cy="142" r="0.85" fill="#1a1a1a"/>
<circle cx="386.1" cy="147.3" r="0.85" fill="#1a1a1a"/>
<circle cx="388.1" cy="151.8" r="0.85" fill="#1a1a1a"/>
<circle cx="389.3" cy="156.9" r="0.85" fill="#1a1a1a"/>
<circle cx="389.7" cy="161.9" r="0.85" fill="#1a1a1a"/>
<circle cx="390.3" cy="167" r="0.85" fill="#1a1a1a"/>
<circle cx="390.9" cy="172" r="0.85" fill="#1a1a1a"/>
<circle cx="391.9" cy="177.1" r="0.85" fill="#1a1a1a"/>
<circle cx="392.6" cy="182.4" r="0.85" fill="#1a1a1a"/>
<circle cx="393.6" cy="187.5" r="0.85" fill="#1a1a1a"/>
<circle cx="394.6" cy="193.1" r="0.85" fill="#1a1a1a"/>
<circle cx="395.1" cy="198.2" r="0.85" fill="#1a1a1a"/>
<circle cx="395.8" cy="202.6" r="0.85" fill="#1a1a1a"/>
<circle cx="397" cy="208.6" r="0.85" fill="#1a1a1a"/>
<circle cx="399.1" cy="213.1" r="0.85" fill="#1a1a1a"/>
<circle cx="400.1" cy="219.3" r="0.85" fill="#1a1a1a"/>
<circle cx="403.7" cy="224.4" r="0.85" fill="#1a1a1a"/>
<circle cx="405.7" cy="229.5" r="0.85" fill="#1a1a1a"/>
<circle cx="407.7" cy="235.7" r="0.85" fill="#1a1a1a"/>
<circle cx="412" cy="238.7" r="0.85" fill="#1a1a1a"/>
<circle cx="416.2" cy="240.8" r="0.85" fill="#1a1a1a"/>
<circle cx="420.4" cy="243.3" r="0.85" fill="#1a1a1a"/>
<text x="1.00" y="259.70" font-family="Liberation Sans, sans-serif" font-weight="700" font-size="8.00" letter-spacing="1.43" fill="#151515">10</text>
<text x="12.45" y="256.17" font-family="Liberation Sans, sans-serif" font-weight="700" font-size="6.30" letter-spacing="0.00" fill="#151515">0</text>
<text x="41.40" y="259.55" font-family="Liberation Sans, sans-serif" font-weight="700" font-size="8.00" letter-spacing="0.93" fill="#151515">10</text>
<text x="54.20" y="255.67" font-family="Liberation Sans, sans-serif" font-weight="700" font-size="6.30" letter-spacing="0.00" fill="#151515">1</text>
<text x="82.40" y="259.65" font-family="Liberation Sans, sans-serif" font-weight="700" font-size="8.00" letter-spacing="1.33" fill="#151515">10</text>
<text x="94.58" y="256.25" font-family="Liberation Sans, sans-serif" font-weight="700" font-size="6.30" letter-spacing="0.00" fill="#151515">2</text>
<text x="123.50" y="259.25" font-family="Liberation Sans, sans-serif" font-weight="700" font-size="8.00" letter-spacing="0.83" fill="#151515">10</text>
<text x="135.86" y="255.41" font-family="Liberation Sans, sans-serif" font-weight="700" font-size="6.30" letter-spacing="0.00" fill="#151515">3</text>
<text x="85.18" y="268.00" font-family="Liberation Sans, sans-serif" font-weight="700" font-size="7.70" letter-spacing="1.17" fill="#151515">FL1</text>
<text x="173.70" y="260.40" font-family="Liberation Sans, sans-serif" font-weight="700" font-size="8.00" letter-spacing="1.03" fill="#151515">10</text>
<text x="185.05" y="256.57" font-family="Liberation Sans, sans-serif" font-weight="700" font-size="6.30" letter-spacing="0.00" fill="#151515">0</text>
<text x="214.10" y="261.05" font-family="Liberation Sans, sans-serif" font-weight="700" font-size="8.00" letter-spacing="1.13" fill="#151515">10</text>
<text x="227.00" y="257.27" font-family="Liberation Sans, sans-serif" font-weight="700" font-size="6.30" letter-spacing="0.00" fill="#151515">1</text>
<text x="254.90" y="261.05" font-family="Liberation Sans, sans-serif" font-weight="700" font-size="8.00" letter-spacing="0.13" fill="#151515">10</text>
<text x="266.68" y="257.30" font-family="Liberation Sans, sans-serif" font-weight="700" font-size="6.30" letter-spacing="0.00" fill="#151515">2</text>
<text x="295.60" y="261.55" font-family="Liberation Sans, sans-serif" font-weight="700" font-size="8.00" letter-spacing="0.53" fill="#151515">10</text>
<text x="306.86" y="257.71" font-family="Liberation Sans, sans-serif" font-weight="700" font-size="6.30" letter-spacing="0.00" fill="#151515">3</text>
<text x="257.68" y="269.95" font-family="Liberation Sans, sans-serif" font-weight="700" font-size="7.70" letter-spacing="1.32" fill="#151515">FL1</text>
<text x="346.40" y="262.70" font-family="Liberation Sans, sans-serif" font-weight="700" font-size="8.00" letter-spacing="1.73" fill="#151515">10</text>
<text x="358.85" y="259.72" font-family="Liberation Sans, sans-serif" font-weight="700" font-size="6.30" letter-spacing="0.00" fill="#151515">0</text>
<text x="387.20" y="263.10" font-family="Liberation Sans, sans-serif" font-weight="700" font-size="8.00" letter-spacing="1.63" fill="#151515">10</text>
<text x="400.40" y="259.82" font-family="Liberation Sans, sans-serif" font-weight="700" font-size="6.30" letter-spacing="0.00" fill="#151515">1</text>
<text x="428.70" y="263.10" font-family="Liberation Sans, sans-serif" font-weight="700" font-size="8.00" letter-spacing="0.43" fill="#151515">10</text>
<text x="440.58" y="259.85" font-family="Liberation Sans, sans-serif" font-weight="700" font-size="6.30" letter-spacing="0.00" fill="#151515">2</text>
<text x="470.20" y="262.85" font-family="Liberation Sans, sans-serif" font-weight="700" font-size="8.00" letter-spacing="1.03" fill="#151515">10</text>
<text x="482.76" y="259.31" font-family="Liberation Sans, sans-serif" font-weight="700" font-size="6.30" letter-spacing="0.00" fill="#151515">3</text>
<text x="431.78" y="271.50" font-family="Liberation Sans, sans-serif" font-weight="700" font-size="7.70" letter-spacing="0.82" fill="#151515">FL1</text>
</svg></body></html>
